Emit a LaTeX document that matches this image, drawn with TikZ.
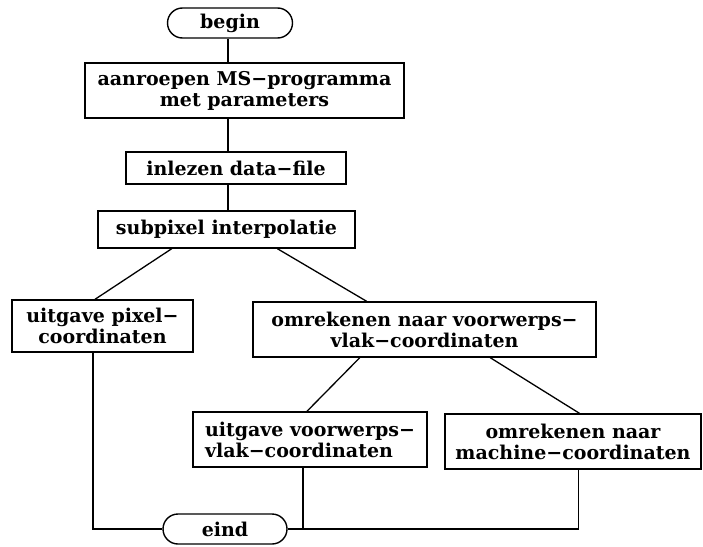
\documentclass[tikz,border=0pt]{standalone}
\usepackage{fontspec}
\newfontfamily\flowfont{DejaVu Serif}
\usetikzlibrary{shapes.misc,calc}
\begin{document}
\begin{tikzpicture}[x=1pt,y=-1pt,
  every node/.style={font=\flowfont\bfseries\fontsize{19}{21}\selectfont},
  stepbox/.style={draw, line width=1.4pt, inner sep=0pt, align=center},
  terminal/.style={draw, rounded rectangle, line width=1.4pt,
    minimum width=125pt, minimum height=30pt, inner sep=0pt},
  link/.style={line width=1.3pt}]
\useasboundingbox (0,0) rectangle (703,546);

% main column
\node[terminal] (begin) at (230,23) {begin};
\node[stepbox, minimum width=319pt, minimum height=55pt] (call) at (244.5,90.5)
  {aanroepen MS−programma\\met parameters};
\node[stepbox, minimum width=220pt, minimum height=32pt] (read) at (236,168)
  {inlezen data−file};
\node[stepbox, minimum width=257pt, minimum height=37pt] (interp) at (226.5,229.5)
  {subpixel interpolatie};

% branches
\node[stepbox, minimum width=181pt, minimum height=52pt] (pix) at (102.5,326)
  {uitgave pixel−\\coordinaten};
\node[stepbox, minimum width=343pt, minimum height=55pt] (conv) at (424.5,329.5)
  {omrekenen naar voorwerps−\\vlak−coordinaten};
\node[stepbox, align=left, minimum width=234pt, minimum height=55pt] (vout) at (310,439.5)
  {uitgave voorwerps−\\vlak−coordinaten};
\node[stepbox, minimum width=256pt, minimum height=55pt] (mach) at (573,441.5)
  {omrekenen naar\\machine−coordinaten};
\node[terminal, minimum width=124pt] (eind) at (225,529) {eind};

% attachment points
\coordinate (spine) at (228,0);
\coordinate (i1) at ($(interp.south west)!.288!(interp.south east)$);
\coordinate (i2) at ($(interp.south west)!.697!(interp.south east)$);
\coordinate (c1) at ($(conv.south west)!.312!(conv.south east)$);
\coordinate (c2) at ($(conv.south west)!.691!(conv.south east)$);
\coordinate (pfoot) at ($(pix.south west)!.448!(pix.south east)$);
\coordinate (vfoot) at ($(vout.south west)!.47!(vout.south east)$);
\coordinate (mfoot) at ($(mach.south west)!.521!(mach.south east)$);

% connectors
\draw[link] (begin.south -| spine) -- (call.north -| spine);
\draw[link] (call.south -| spine) -- (read.north -| spine);
\draw[link] (read.south -| spine) -- (interp.north -| spine);
\draw[link] (i1) -- ($(pix.north west)!.459!(pix.north east)$);
\draw[link] (i2) -- ($(conv.north west)!.332!(conv.north east)$);
\draw[link] (c1) -- ($(vout.north west)!.487!(vout.north east)$);
\draw[link] (c2) -- ($(mach.north west)!.525!(mach.north east)$);
\draw[link] (pfoot) |- (eind.west);
\draw[link] (eind.east) -| (mfoot);
\draw[link] (vfoot) -- (vfoot |- eind.east);
\end{tikzpicture}
\end{document}
